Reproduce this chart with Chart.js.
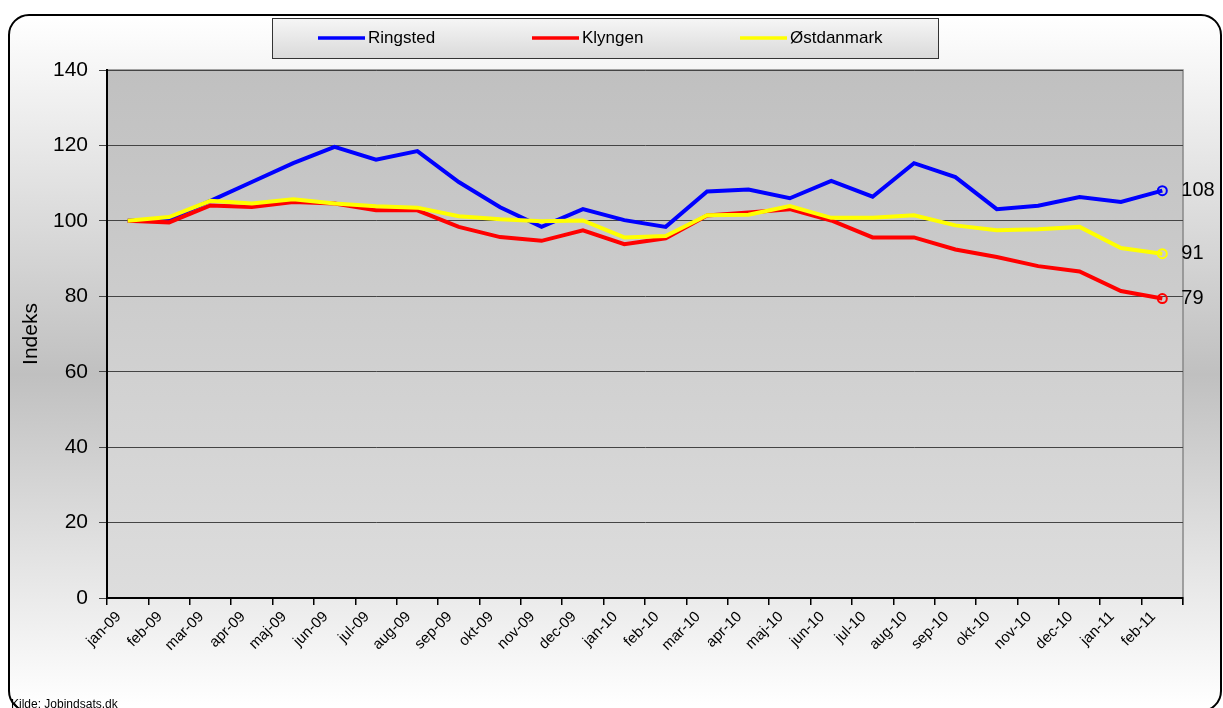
<!DOCTYPE html>
<html>
<head>
<meta charset="utf-8">
<script src="https://cdn.jsdelivr.net/npm/chart.js@4.4.1/dist/chart.umd.min.js"></script>
<style>
    html, body { margin: 0; padding: 0; background: #ffffff; }
    #wrap { width: 1223px; height: 708px; position: relative; }
</style>
</head>
<body>
<div id="wrap"><canvas id="chart"></canvas></div>
<script>
// Kategorier (måneder)
const months = [
    'jan-09', 'feb-09', 'mar-09', 'apr-09', 'maj-09', 'jun-09', 'jul-09', 'aug-09', 'sep-09',
    'okt-09', 'nov-09', 'dec-09', 'jan-10', 'feb-10', 'mar-10', 'apr-10', 'maj-10', 'jun-10',
    'jul-10', 'aug-10', 'sep-10', 'okt-10', 'nov-10', 'dec-10', 'jan-11', 'feb-11'
];

// Indeks (jan 2009 = 100)
const ringsted = [
    100, 100.5, 105.3, 110.3, 115.3, 119.6, 116.2, 118.5, 110.3,
    103.6, 98.4, 103.1, 100.2, 98.4, 107.8, 108.3, 106.0, 110.6,
    106.4, 115.3, 111.6, 103.1, 104.0, 106.3, 105.0, 108.0
];
const klyngen = [
    100, 99.6, 104.1, 103.7, 105.0, 104.6, 102.8, 102.8, 98.4,
    95.7, 94.7, 97.5, 93.8, 95.4, 101.4, 102.2, 103.1, 100.1,
    95.6, 95.6, 92.4, 90.4, 88.0, 86.6, 81.4, 79.4
];
const oestdanmark = [
    100, 101.0, 105.3, 104.6, 105.7, 104.6, 103.9, 103.5, 101.2,
    100.4, 99.9, 100.1, 95.6, 96.0, 101.5, 101.6, 103.9, 100.8,
    100.8, 101.5, 98.8, 97.5, 97.8, 98.4, 92.8, 91.3
];

const yTicks = [0, 20, 40, 60, 80, 100, 120, 140];

const FONT = "Arial, 'Liberation Sans', sans-serif";
const lastIdx = months.length - 1;

// Baggrund: afrundet ramme med gradient + plotområde
const backgroundPlugin = {
    id: 'background',
    beforeDraw(chart) {
        const ctx = chart.ctx;
        const a = chart.chartArea;
        ctx.save();

        // ramme
        const g = ctx.createLinearGradient(0, 15, 0, 706);
        g.addColorStop(0, '#ffffff');
        g.addColorStop(0.52, '#c0c0c0');
        g.addColorStop(1, '#ffffff');
        ctx.beginPath();
        ctx.roundRect(9, 15, 1212, 696, 20);
        ctx.fillStyle = g;
        ctx.fill();
        ctx.lineWidth = 2;
        ctx.strokeStyle = '#000000';
        ctx.stroke();

        // plotområde
        const pg = ctx.createLinearGradient(0, a.top, 0, a.bottom);
        pg.addColorStop(0, '#c0c0c0');
        pg.addColorStop(1, '#dddddd');
        ctx.fillStyle = pg;
        ctx.fillRect(a.left, a.top, a.right - a.left, a.bottom - a.top);
        ctx.lineWidth = 1.5;
        ctx.strokeStyle = '#888888';
        ctx.strokeRect(a.left, a.top, a.right - a.left, a.bottom - a.top);
        ctx.beginPath();
        ctx.moveTo(a.right, a.bottom);
        ctx.lineTo(a.right, a.bottom + 7);
        ctx.stroke();
        ctx.restore();
    },
    afterDraw(chart) {
        const ctx = chart.ctx;
        ctx.save();

        // y-aksens titel
        ctx.translate(31, 334);
        ctx.rotate(-Math.PI / 2);
        ctx.font = '21px ' + FONT;
        ctx.fillStyle = '#000000';
        ctx.textAlign = 'center';
        ctx.textBaseline = 'middle';
        ctx.fillText('Indeks', 0, 0);
        ctx.setTransform(1, 0, 0, 1, 0, 0);

        // legend-boks
        const lg = ctx.createLinearGradient(0, 18, 0, 58);
        lg.addColorStop(0, '#f6f6f6');
        lg.addColorStop(1, '#dadada');
        ctx.fillStyle = lg;
        ctx.fillRect(272, 18, 666, 40);
        ctx.lineWidth = 1;
        ctx.strokeStyle = '#333333';
        ctx.strokeRect(272.5, 18.5, 666, 40);

        const items = [
            { x: 318, ds: chart.data.datasets[0] },
            { x: 532, ds: chart.data.datasets[1] },
            { x: 740, ds: chart.data.datasets[2] }
        ];
        ctx.font = '17px ' + FONT;
        ctx.textBaseline = 'middle';
        ctx.textAlign = 'left';
        items.forEach(it => {
            ctx.beginPath();
            ctx.moveTo(it.x, 38);
            ctx.lineTo(it.x + 47, 38);
            ctx.lineWidth = 3.5;
            ctx.strokeStyle = it.ds.borderColor;
            ctx.stroke();
            ctx.fillStyle = '#000000';
            ctx.fillText(it.ds.label, it.x + 50, 38);
        });

        // slutværdier
        ctx.font = '20px ' + FONT;
        chart.data.datasets.forEach((ds, i) => {
            const pt = chart.getDatasetMeta(i).data[lastIdx];
            ctx.fillText(String(Math.round(ds.data[lastIdx])), pt.x + 19, pt.y);
        });

        // kilde
        ctx.font = '12px ' + FONT;
        ctx.textBaseline = 'alphabetic';
        ctx.fillText('Kilde: Jobindsats.dk', 11, 708);
        ctx.restore();
    }
};

function makeDataset(label, data, color, order) {
    return {
        label: label,
        data: data,
        borderColor: color,
        backgroundColor: 'transparent',
        borderWidth: 4,
        tension: 0,
        order: order,
        pointRadius: c => (c.dataIndex === lastIdx ? 4.5 : 0),
        pointBorderWidth: 2,
        pointBorderColor: color,
        pointBackgroundColor: 'transparent'
    };
}

const ctx = document.getElementById('chart').getContext('2d');
new Chart(ctx, {
    type: 'line',
    data: {
        labels: months,
        datasets: [
            makeDataset('Ringsted', ringsted, '#0000ff', 2),
            makeDataset('Klyngen', klyngen, '#ff0000', 1),
            makeDataset('Østdanmark', oestdanmark, '#ffff00', 0)
        ]
    },
    options: {
        responsive: true,
        maintainAspectRatio: false,
        animation: false,
        layout: { padding: { left: 0, right: 40, top: 70, bottom: 0 } },
        plugins: {
            legend: { display: false },
            tooltip: { enabled: false }
        },
        scales: {
            x: {
                offset: true,
                grid: {
                    offset: true,
                    drawOnChartArea: false,
                    drawTicks: true,
                    tickLength: 7,
                    color: '#000000',
                    lineWidth: 1.5
                },
                border: { display: true, color: '#000000', width: 2 },
                ticks: {
                    autoSkip: false,
                    maxRotation: 45,
                    minRotation: 45,
                    padding: 3,
                    labelOffset: -9,
                    color: '#000000',
                    font: { family: FONT, size: 15 }
                },
                afterFit(scale) { scale.height = 110; }
            },
            y: {
                min: 0,
                max: 140,
                afterBuildTicks(scale) { scale.ticks = yTicks.map(v => ({ value: v })); },
                grid: {
                    color: '#444444',
                    lineWidth: 1,
                    tickLength: 8
                },
                border: { display: true, color: '#000000', width: 2 },
                ticks: {
                    padding: 11,
                    color: '#000000',
                    font: { family: FONT, size: 21 }
                },
                afterFit(scale) { scale.width = 107; }
            }
        }
    },
    plugins: [backgroundPlugin]
});
</script>
</body>
</html>
